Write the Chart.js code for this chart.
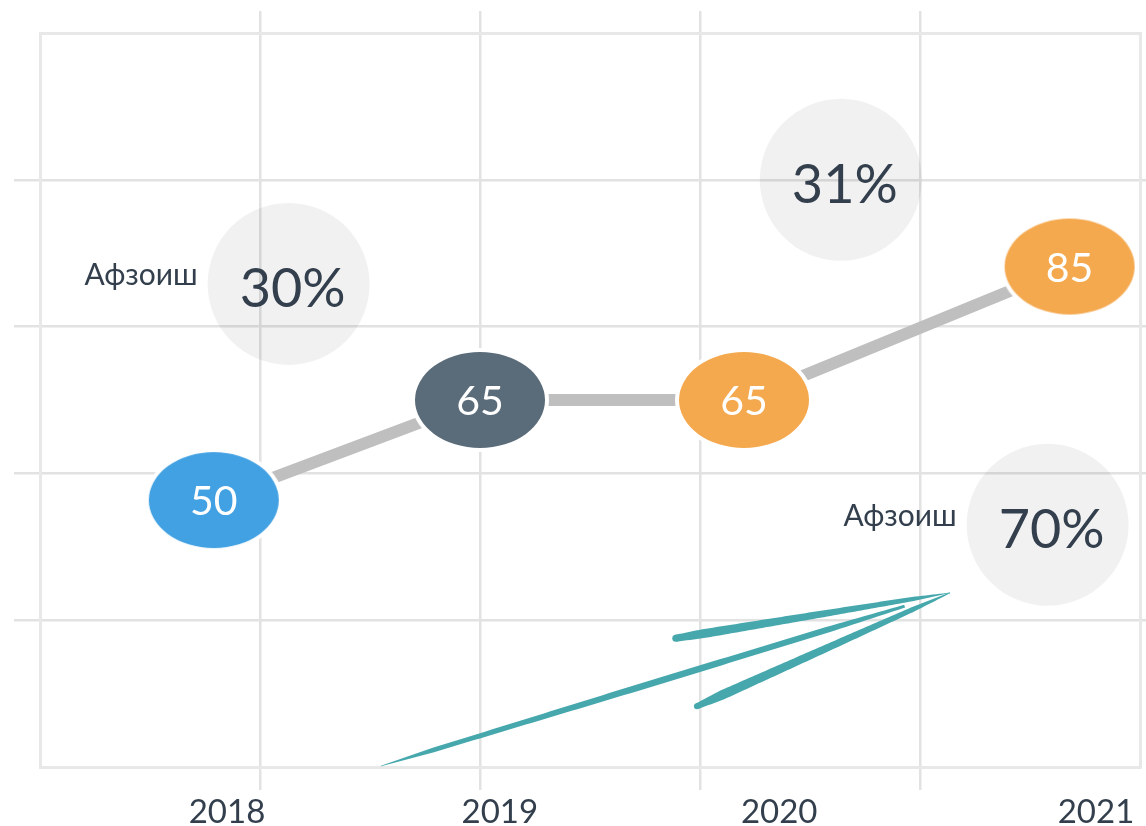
<!DOCTYPE html>
<html>
<head>
<meta charset="utf-8">
<script src="https://cdn.jsdelivr.net/npm/chart.js@4.4.1/dist/chart.umd.min.js"></script>
<style>
  html, body { margin: 0; padding: 0; background: #fff; }
  #wrap { width: 1146px; height: 826px; }
</style>
</head>
<body>
<div id="wrap"><canvas id="chart"></canvas></div>
<script>
// years and their values
const years = ['2018', '2019', '2020', '2021'];
const values = [50, 65, 65, 85];
const yearX = [0.79, 2.0, 3.2, 4.68];        // x of each year's point (axis units)
const yearLabelX = [0.85, 2.09, 3.36, 4.8];  // x of each year label (axis units)
const pointColors = ['#41a1e3', '#5a6b79', '#f5a94f', '#f5a94f'];

// growth bubbles
const growth = [30, 31, 70];
const growthX = [1.13, 3.64, 4.58];
const growthY = [82.4, 98, 46.3];
const growthLabel = ['Афзоиш', '', 'Афзоиш'];

// axis ranges
const xMin = 0, xMax = 5, xStep = 1;
const yMin = 10, yMax = 120, yStep = 22;

// trend arrow strokes: [x0, y0, x1, y1] in axis units
const arrowStrokes = [
  [1.55, 10.15, 3.93, 34.1],
  [2.89, 29.3, 4.136, 36.1],
  [2.986, 19.1, 4.136, 36.1]
];

const FONT = "Lato, 'Noto Sans', sans-serif";
const textColor = '#333f4d';
const gridColor = '#e2e2e2';
const frameColor = '#e8e8e8';

// no grid / tick at the frame edges, only the border
const inner = (c) => (ctx) => {
  const s = ctx.scale, v = ctx.tick && ctx.tick.value;
  return (v === s.min || v === s.max) ? 'rgba(0,0,0,0)' : c;
};

function ellipseImage(color) {
  const rx = 65, ry = 48, ring = 4;
  const c = document.createElement('canvas');
  c.width = 2 * (rx + ring);
  c.height = 2 * (ry + ring);
  const g = c.getContext('2d');
  g.beginPath();
  g.ellipse(c.width / 2, c.height / 2, rx + ring, ry + ring, 0, 0, Math.PI * 2);
  g.fillStyle = '#fff';
  g.fill();
  g.beginPath();
  g.ellipse(c.width / 2, c.height / 2, rx, ry, 0, 0, Math.PI * 2);
  g.fillStyle = color;
  g.fill();
  return c;
}

// tapered brush stroke, widths given along t = 0, .1, .5, .85, 1
function brush(ctx, x0, y0, x1, y1, prof) {
  const ts = [0, 0.1, 0.5, 0.85, 1];
  const dx = x1 - x0, dy = y1 - y0, len = Math.hypot(dx, dy);
  const nx = -dy / len, ny = dx / len;
  const left = [], right = [];
  for (let k = 0; k <= 80; k++) {
    const t = k / 80;
    let j = 0;
    while (j < ts.length - 2 && t > ts[j + 1]) j++;
    const f = (t - ts[j]) / (ts[j + 1] - ts[j]);
    const w = (prof[j] + (prof[j + 1] - prof[j]) * f) / 2;
    const px = x0 + dx * t, py = y0 + dy * t;
    left.push([px + nx * w, py + ny * w]);
    right.push([px - nx * w, py - ny * w]);
  }
  ctx.beginPath();
  ctx.moveTo(left[0][0], left[0][1]);
  left.forEach(p => ctx.lineTo(p[0], p[1]));
  right.reverse().forEach(p => ctx.lineTo(p[0], p[1]));
  ctx.closePath();
  ctx.fill();
  // rounded start
  ctx.beginPath();
  ctx.arc(x0, y0, prof[0] / 2, 0, Math.PI * 2);
  ctx.fill();
}
const brushProfiles = [
  [0.5, 4.5, 6.5, 6, 3],
  [7, 9, 7, 4.5, 0.5],
  [6, 9.5, 7.5, 5, 1]
];

const decor = {
  id: 'decor',
  afterDatasetsDraw(chart) {
    const { ctx, scales: { x, y } } = chart;
    ctx.save();

    // trend arrow
    ctx.fillStyle = '#46a8ad';
    arrowStrokes.forEach((s, i) => {
      brush(ctx, x.getPixelForValue(s[0]), y.getPixelForValue(s[1]),
        x.getPixelForValue(s[2]), y.getPixelForValue(s[3]), brushProfiles[i]);
    });

    // growth bubble texts
    const bubbles = chart.getDatasetMeta(1).data;
    bubbles.forEach((el, i) => {
      ctx.fillStyle = textColor;
      ctx.textAlign = 'center';
      ctx.textBaseline = 'middle';
      ctx.font = `54px ${FONT}`;
      ctx.fillText(growth[i] + '%', el.x + 4, el.y + 6);
      if (growthLabel[i]) {
        ctx.textAlign = 'right';
        ctx.textBaseline = 'alphabetic';
        ctx.font = `30px ${FONT}`;
        ctx.fillText(growthLabel[i], el.x - 91, el.y + 1);
      }
    });

    // values inside the ellipses
    const pts = chart.getDatasetMeta(0).data;
    ctx.fillStyle = '#fff';
    ctx.textAlign = 'center';
    ctx.textBaseline = 'middle';
    ctx.font = `41px ${FONT}`;
    pts.forEach((el, i) => ctx.fillText(String(values[i]), el.x, el.y + 2));

    ctx.restore();
  }
};

const border = { color: frameColor, width: 3 };

new Chart(document.getElementById('chart'), {
  type: 'line',
  data: {
    datasets: [
      {
        data: yearX.map((v, i) => ({ x: v, y: values[i] })),
        xAxisID: 'x',
        yAxisID: 'y',
        borderColor: '#bfbfbf',
        borderWidth: 12,
        tension: 0,
        pointStyle: pointColors.map(ellipseImage),
        pointRadius: 10,
        clip: false
      },
      {
        data: growthX.map((v, i) => ({ x: v, y: growthY[i] })),
        xAxisID: 'x',
        yAxisID: 'y',
        showLine: false,
        pointStyle: 'circle',
        pointRadius: 81,
        pointBackgroundColor: 'rgba(0,0,0,0.055)',
        pointBorderWidth: 0,
        clip: false
      }
    ]
  },
  options: {
    responsive: true,
    maintainAspectRatio: false,
    animation: false,
    events: [],
    layout: { autoPadding: false, padding: { top: 11, left: 14, right: 0, bottom: 0 } },
    plugins: { legend: { display: false }, tooltip: { enabled: false } },
    scales: {
      x: {
        type: 'linear', position: 'bottom', min: xMin, max: xMax,
        ticks: { display: false, stepSize: xStep },
        grid: { color: inner(gridColor), tickColor: inner(gridColor), lineWidth: 2.5, tickLength: 23 },
        border
      },
      xLabels: {
        type: 'linear', position: 'bottom', weight: 1, min: xMin, max: xMax,
        afterBuildTicks: (a) => { a.ticks = yearLabelX.map(v => ({ value: v })); },
        ticks: {
          autoSkip: false, maxRotation: 0, padding: 0, color: textColor,
          font: { family: FONT, size: 33, lineHeight: 28 / 33 },
          callback: (v, i) => years[i]
        },
        grid: { display: false },
        border: { display: false }
      },
      xTop: {
        type: 'linear', position: 'top', min: xMin, max: xMax,
        ticks: { display: false, stepSize: xStep },
        grid: { drawOnChartArea: false, tickColor: inner(gridColor), lineWidth: 2.5, tickLength: 22 },
        border
      },
      y: {
        type: 'linear', position: 'left', min: yMin, max: yMax,
        ticks: { display: false, stepSize: yStep },
        grid: { color: inner(gridColor), tickColor: inner(gridColor), lineWidth: 2.5, tickLength: 26 },
        border
      },
      y2: {
        type: 'linear', position: 'right', min: yMin, max: yMax,
        ticks: { display: false, stepSize: yStep },
        grid: { drawOnChartArea: false, tickColor: inner(gridColor), lineWidth: 2.5, tickLength: 6 },
        border
      }
    }
  },
  plugins: [decor]
});
</script>
</body>
</html>
